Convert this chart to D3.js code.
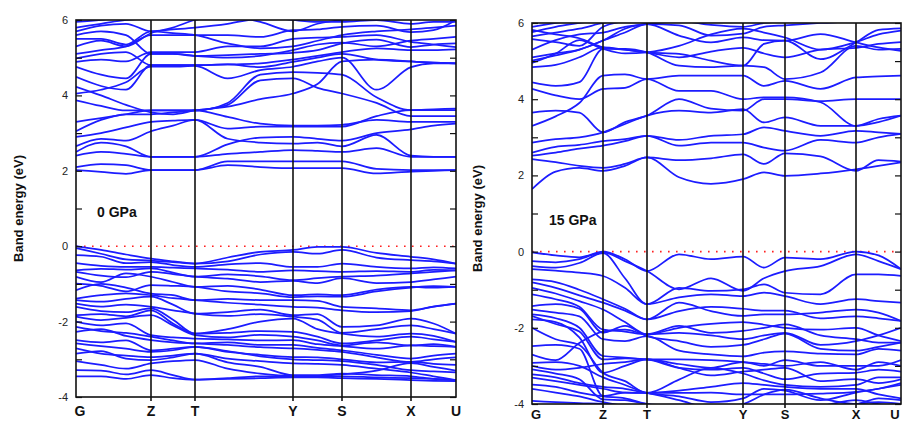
<!DOCTYPE html>
<html>
<head>
<meta charset="utf-8">
<script src="https://cdn.jsdelivr.net/npm/d3@7"></script>
<style>
  body { margin: 0; background: #fff; }
  #container { width: 906px; height: 421px; }
  svg { display: block; font-family: "Liberation Sans", Arial, sans-serif; }
</style>
</head>
<body>
<div id="container"></div>
<script>
// k-path, high symmetry points and the path length of each segment
const kLabels = ["G", "Z", "T", "Y", "S", "X", "U"];
const kNodes0 = [0, 75, 119, 217, 266, 335, 380];
const kNodes15 = [0, 71, 115, 211, 253, 324, 369];
// how many sub steps each segment is sampled with: G-Z, Z-T, T-Y, Y-S, S-X, X-U
const segSteps = [3, 2, 3, 2, 2, 2];

// band energies (eV) at the sampled k points
// order: G, a, b, Z, c, T, d, e, Y, f, S, g, X, h, U
const cond0 = [
  [2.02,1.97,1.92,2.02,2.02,2.02,2.15,2.1,2.07,2.07,2.07,1.93,1.98,2.0,2.02],
  [2.1,2.18,2.15,2.02,2.02,2.02,2.25,2.25,2.25,2.25,2.25,2.05,2.02,2.02,2.02],
  [2.4,2.5,2.45,2.37,2.37,2.37,2.45,2.5,2.55,2.53,2.5,2.6,2.37,2.37,2.37],
  [2.5,2.75,2.65,2.37,2.37,2.37,2.7,2.88,2.9,2.85,2.8,3.0,3.1,3.2,3.25],
  [2.65,2.85,2.8,3.05,3.2,3.35,2.85,2.75,2.72,2.75,2.65,2.95,2.4,2.37,2.37],
  [2.9,3.0,3.15,3.3,3.33,3.35,3.12,3.17,3.17,3.17,3.17,3.45,3.61,3.61,3.61],
  [3.05,3.35,3.5,3.5,3.55,3.6,3.75,4.4,4.45,4.2,4.05,3.8,3.45,3.45,3.45],
  [3.3,3.4,3.5,3.6,3.6,3.6,3.8,4.55,4.62,4.6,4.55,3.95,3.61,3.63,3.65],
  [3.87,3.72,3.6,3.6,3.6,3.6,3.43,3.25,3.2,3.2,3.22,3.35,3.3,3.3,3.3],
  [4.05,4.15,4.35,4.76,4.76,4.78,4.45,4.67,4.76,4.9,5.0,4.15,4.75,4.85,4.85],
  [4.23,4.0,3.75,3.55,3.5,3.6,3.7,3.9,4.05,4.3,4.9,4.95,4.9,4.87,4.85],
  [4.49,4.25,4.15,4.8,4.8,4.8,4.82,4.75,4.89,5.0,5.1,4.95,4.9,4.87,4.85],
  [4.76,4.55,4.45,5.1,5.1,5.05,5.07,5.1,5.13,5.2,5.38,5.48,5.28,5.35,5.38],
  [4.89,4.95,4.9,5.15,5.15,5.15,5.3,5.3,5.5,5.53,5.55,5.6,5.42,5.35,5.28],
  [4.98,5.1,5.15,4.8,4.8,4.8,4.82,4.85,4.95,5.05,5.15,5.25,5.2,5.2,5.22],
  [5.1,5.2,5.3,5.6,5.6,5.6,5.6,5.55,5.73,5.75,5.82,5.85,5.68,5.73,6.0],
  [5.3,5.45,5.3,5.65,5.8,6.0,6.1,5.95,5.7,5.9,6.0,6.05,6.1,6.1,6.1],
  [5.5,5.5,5.35,5.7,5.65,5.6,5.38,5.25,5.3,5.45,5.6,5.7,5.75,5.8,5.85],
  [5.6,5.7,5.6,5.1,5.1,5.05,5.0,5.05,5.2,5.35,5.4,5.3,5.45,5.5,5.55],
  [5.7,5.85,5.9,5.7,5.75,5.8,5.9,6.05,6.1,6.1,6.1,6.1,6.1,6.1,6.1],
  [5.8,5.9,6.0,6.05,6.1,6.1,6.1,6.1,6.0,5.95,5.95,6.0,5.9,5.95,5.95],
  [5.95,6.0,6.1,6.1,6.2,6.2,6.2,6.2,6.2,6.2,6.2,6.2,6.2,6.2,6.2]
];
const val0 = [
  [0,-0.1,-0.22,-0.33,-0.4,-0.46,-0.3,-0.15,-0.1,-0.02,-0.02,-0.18,-0.28,-0.35,-0.46],
  [-0.05,-0.2,-0.35,-0.38,-0.42,-0.46,-0.4,-0.22,-0.15,-0.2,-0.1,-0.3,-0.37,-0.4,-0.46],
  [-0.24,-0.28,-0.45,-0.42,-0.5,-0.55,-0.48,-0.45,-0.55,-0.55,-0.46,-0.55,-0.59,-0.56,-0.59],
  [-0.45,-0.52,-0.55,-0.55,-0.57,-0.59,-0.62,-0.68,-0.64,-0.66,-0.68,-0.66,-0.68,-0.63,-0.64],
  [-0.64,-0.6,-0.62,-0.59,-0.7,-0.81,-0.75,-0.8,-0.9,-0.85,-0.81,-0.78,-0.72,-0.68,-0.64],
  [-0.68,-0.78,-0.82,-0.68,-0.74,-0.81,-0.86,-0.95,-0.92,-0.98,-0.85,-0.98,-0.95,-0.88,-0.81],
  [-0.81,-0.95,-0.72,-0.81,-0.95,-1.08,-1.05,-1.15,-1.3,-1.28,-1.3,-1.15,-1.08,-1.1,-1.08],
  [-0.99,-1.05,-1.2,-1.03,-1.05,-1.08,-1.2,-1.25,-1.35,-1.33,-1.34,-1.2,-1.1,-1.06,-1.08],
  [-1.17,-1.0,-1.1,-1.26,-1.3,-1.43,-1.4,-1.43,-1.43,-1.45,-1.61,-1.65,-1.7,-1.6,-1.52],
  [-1.39,-1.3,-1.25,-1.3,-1.38,-1.43,-1.5,-1.55,-1.61,-1.63,-1.7,-1.75,-1.72,-1.6,-1.52],
  [-1.43,-1.47,-1.4,-1.34,-1.55,-1.79,-1.75,-1.68,-1.83,-1.8,-2.14,-2.1,-1.92,-2.05,-2.32],
  [-1.52,-1.6,-1.55,-1.61,-1.7,-1.79,-1.85,-1.8,-1.87,-1.95,-2.3,-2.2,-2.1,-2.2,-2.32],
  [-1.61,-1.72,-1.75,-1.65,-1.95,-2.32,-2.2,-2.0,-1.92,-2.2,-2.32,-2.4,-2.32,-2.38,-2.54],
  [-1.83,-1.8,-1.86,-1.7,-2.05,-2.32,-2.3,-2.25,-2.27,-2.4,-2.58,-2.5,-2.4,-2.47,-2.54],
  [-1.87,-1.96,-1.9,-1.83,-2.1,-2.36,-2.42,-2.35,-2.4,-2.5,-2.63,-2.55,-2.63,-2.6,-2.67],
  [-2.0,-2.1,-2.05,-2.36,-2.42,-2.45,-2.47,-2.5,-2.49,-2.6,-2.65,-2.72,-2.63,-2.65,-2.67],
  [-2.14,-2.25,-2.3,-2.4,-2.5,-2.58,-2.55,-2.62,-2.62,-2.7,-2.76,-2.88,-2.98,-2.9,-2.85],
  [-2.27,-2.2,-2.38,-2.49,-2.55,-2.58,-2.62,-2.68,-2.71,-2.75,-2.8,-2.95,-3.07,-3.0,-2.95],
  [-2.49,-2.55,-2.5,-2.76,-2.72,-2.67,-2.8,-2.88,-2.94,-2.95,-3.0,-3.08,-3.07,-3.12,-3.15],
  [-2.58,-2.65,-2.72,-2.8,-2.76,-2.67,-2.78,-2.92,-3.0,-3.02,-3.05,-3.15,-3.29,-3.32,-3.35],
  [-2.71,-2.85,-2.9,-2.94,-2.9,-2.85,-2.98,-3.05,-3.11,-3.12,-3.15,-3.25,-3.35,-3.45,-3.55],
  [-2.85,-2.78,-2.98,-3.02,-2.95,-2.85,-3.08,-3.2,-3.42,-3.42,-3.38,-3.42,-3.45,-3.52,-3.55],
  [-3.05,-3.15,-3.25,-3.11,-3.05,-3.02,-3.25,-3.38,-3.44,-3.44,-3.4,-3.3,-3.1,-3.2,-3.3],
  [-3.29,-3.3,-3.4,-3.29,-3.42,-3.54,-3.5,-3.45,-3.45,-3.45,-3.45,-3.48,-3.5,-3.52,-3.55],
  [-3.45,-3.45,-3.52,-3.42,-3.5,-3.54,-3.52,-3.5,-3.48,-3.48,-3.5,-3.52,-3.55,-3.57,-3.58]
];
const cond15 = [
  [1.64,2.1,2.2,2.12,2.25,2.47,1.95,1.78,1.9,2.08,1.99,2.05,2.16,2.25,2.34],
  [2.43,2.35,2.25,2.2,2.3,2.47,2.4,2.45,2.55,2.3,2.58,2.5,2.12,2.4,2.36],
  [2.52,2.6,2.7,2.78,2.9,3.04,2.78,2.86,2.86,2.73,2.65,2.93,2.86,3.0,3.09],
  [2.6,2.75,2.8,2.9,2.95,3.04,2.93,3.04,3.08,3.26,3.17,3.04,3.17,3.13,3.09],
  [2.86,2.95,3.0,3.13,3.35,3.57,3.7,3.65,3.74,3.39,3.52,3.3,3.3,3.48,3.57],
  [3.65,3.7,3.65,3.13,3.4,3.57,4.0,3.75,3.7,4.0,4.0,3.95,4.0,4.0,4.0],
  [4.27,4.1,4.0,4.27,4.3,4.53,4.22,4.22,4.0,4.05,4.05,3.92,3.3,3.4,3.57],
  [3.3,3.55,3.9,4.62,4.65,4.53,4.62,4.62,4.62,4.35,4.48,4.27,4.57,4.6,4.62],
  [4.44,4.35,4.45,5.32,5.32,5.23,4.88,4.84,4.88,4.84,4.53,4.7,5.4,5.3,5.32],
  [4.84,4.9,5.1,5.36,5.3,5.23,5.19,5.01,4.88,5.45,5.54,5.05,5.49,5.82,5.86],
  [5.01,5.15,5.3,5.54,5.85,5.97,5.67,5.49,5.62,5.55,5.54,5.71,5.49,5.36,5.27],
  [5.1,5.2,5.3,5.54,5.75,5.97,5.94,5.67,5.72,5.9,5.94,6.0,6.05,6.1,6.1],
  [5.58,5.5,5.4,5.9,6.05,6.1,6.1,6.1,6.1,6.1,6.1,6.1,6.1,6.1,6.1],
  [5.65,5.75,5.85,6.0,6.1,6.2,6.2,6.2,6.2,6.2,6.2,6.2,6.2,6.2,6.2],
  [5.76,5.9,6.0,6.1,6.2,6.2,6.2,6.2,6.2,6.2,6.2,6.2,6.2,6.2,6.2],
  [5.9,6.0,6.1,6.2,6.2,6.2,6.2,6.2,6.2,6.2,6.2,6.2,6.2,6.2,6.2],
  [4.95,5.2,5.55,5.32,5.2,5.23,5.4,5.7,5.85,5.75,5.62,5.3,5.5,5.7,5.8],
  [5.3,5.55,5.7,5.75,5.9,5.97,6.05,5.95,5.9,6.0,6.05,6.1,6.1,6.1,6.1],
  [5.82,5.7,5.6,5.36,5.3,5.23,5.1,5.25,5.35,5.2,5.1,5.3,5.35,5.45,5.5]
];
const val15 = [
  [-0.02,-0.1,-0.15,0,-0.2,-0.51,-0.07,-0.2,-0.13,-0.42,-0.16,-0.2,0,-0.1,-0.46],
  [-0.25,-0.28,-0.2,-0.02,-0.25,-0.51,-0.99,-0.7,-1.03,-0.7,-0.51,-0.38,-0.07,-0.25,-0.46],
  [-0.38,-0.42,-0.3,-0.04,-0.7,-1.38,-0.95,-1.03,-0.99,-0.86,-1.08,-1.12,-0.6,-0.6,-0.64],
  [-0.46,-0.5,-0.55,-0.64,-0.95,-1.38,-1.2,-1.12,-1.17,-1.08,-1.17,-1.38,-1.25,-1.3,-1.34],
  [-0.73,-0.8,-1.0,-1.25,-1.5,-1.78,-1.34,-1.56,-1.69,-1.65,-1.65,-1.6,-1.52,-1.6,-1.82],
  [-0.81,-0.95,-1.15,-1.34,-1.55,-1.78,-1.56,-1.45,-1.5,-1.55,-1.55,-1.75,-1.7,-1.75,-1.82],
  [-0.95,-1.1,-1.3,-1.52,-1.85,-2.17,-1.95,-2.13,-2.08,-2.0,-1.91,-2.2,-2.3,-2.39,-2.39],
  [-1.12,-1.25,-1.45,-2.05,-2.1,-2.17,-2.13,-2.2,-2.3,-2.2,-2.13,-2.45,-2.35,-2.2,-2.0],
  [-1.43,-1.38,-1.5,-2.13,-1.95,-2.22,-2.35,-2.5,-2.45,-2.3,-2.15,-2.55,-2.6,-2.5,-2.39],
  [-1.52,-1.6,-1.7,-2.3,-2.35,-2.22,-2.6,-2.7,-2.75,-2.65,-2.62,-2.68,-2.7,-2.55,-2.6],
  [-1.65,-1.75,-2.0,-2.74,-2.78,-2.83,-2.83,-2.85,-2.9,-2.95,-3.0,-2.9,-3.1,-2.9,-3.0],
  [-1.69,-1.9,-2.1,-2.83,-2.8,-2.83,-3.05,-3.1,-3.05,-3.2,-3.35,-3.2,-3.18,-3.1,-3.15],
  [-1.78,-1.85,-2.25,-3.18,-3.0,-2.83,-3.05,-3.25,-3.15,-3.1,-3.05,-3.4,-3.35,-3.45,-3.35],
  [-2.0,-2.3,-2.45,-3.18,-3.4,-3.71,-3.36,-3.05,-3.2,-3.38,-3.5,-3.55,-3.5,-3.3,-3.3],
  [-2.48,-2.45,-2.55,-3.79,-3.7,-3.71,-3.71,-3.7,-3.75,-3.75,-3.75,-3.73,-3.68,-3.6,-3.45],
  [-2.7,-2.85,-2.4,-2.1,-2.05,-2.17,-2.0,-1.9,-1.85,-1.92,-2.0,-2.05,-2.0,-2.2,-2.35],
  [-2.92,-2.9,-3.0,-3.3,-3.5,-3.71,-3.8,-3.95,-3.85,-3.6,-3.65,-3.9,-3.7,-3.6,-3.5],
  [-3.0,-3.1,-3.05,-2.95,-2.9,-2.83,-2.95,-3.05,-2.9,-3.0,-2.85,-3.0,-3.0,-3.0,-2.85],
  [-3.09,-3.2,-3.35,-3.88,-3.9,-4.0,-4.05,-4.1,-4.0,-3.75,-3.62,-3.85,-4.0,-3.85,-3.9],
  [-3.22,-3.3,-3.45,-3.55,-3.6,-3.71,-3.9,-4.1,-4.1,-4.1,-4.1,-4.05,-3.9,-4.0,-4.05],
  [-3.31,-3.4,-3.5,-3.6,-3.7,-3.71,-3.65,-3.55,-3.45,-3.5,-3.55,-3.6,-3.6,-3.75,-3.85],
  [-3.49,-3.55,-3.7,-3.8,-3.85,-4.0,-4.1,-4.2,-4.2,-4.2,-4.2,-4.1,-4.0,-3.95,-4.0],
  [-3.6,-3.7,-3.8,-3.95,-4.05,-4.1,-4.2,-4.2,-4.2,-4.2,-4.2,-4.2,-4.2,-4.2,-4.2],
  [-3.92,-3.95,-3.98,-4.0,-4.1,-4.2,-4.2,-4.2,-4.2,-4.2,-4.2,-4.2,-4.2,-4.2,-4.2]
];

const yTicks = [-4, -3, -2, -1, 0, 1, 2, 3, 4, 5, 6];

const panels = [
  {nodes: kNodes0, cond: cond0, val: val0, label: "0 GPa",
   x0: 76, x1: 456, top: 20, bottom: 397, titleX: 18, tagX: 97, tagY: 217, kY: 416},
  {nodes: kNodes15, cond: cond15, val: val15, label: "15 GPa",
   x0: 532, x1: 901, top: 23, bottom: 404, titleX: 477, tagX: 549, tagY: 225, kY: 421}
];

const W = 906, H = 421;
const svg = d3.create("svg")
  .attr("width", W)
  .attr("height", H)
  .attr("viewBox", `0 0 ${W} ${H}`)
  .attr("xmlns", "http://www.w3.org/2000/svg");

function samplePositions(nodes) {
  const ks = [nodes[0]];
  segSteps.forEach((n, i) => {
    for (let j = 1; j <= n; j++) ks.push(nodes[i] + (nodes[i + 1] - nodes[i]) * j / n);
  });
  return ks;
}

panels.forEach((p, pi) => {
  const x = d3.scaleLinear().domain([0, p.nodes[p.nodes.length - 1]]).range([p.x0, p.x1]);
  const y = d3.scaleLinear().domain([-4, 6]).range([p.bottom, p.top]);
  const ks = samplePositions(p.nodes);

  const clipId = "clip" + pi;
  svg.append("clipPath").attr("id", clipId)
    .append("rect")
    .attr("x", p.x0).attr("y", p.top)
    .attr("width", p.x1 - p.x0).attr("height", p.bottom - p.top);

  const g = svg.append("g");

  // fermi level
  g.append("line")
    .attr("x1", p.x0).attr("x2", p.x1)
    .attr("y1", y(0)).attr("y2", y(0))
    .attr("stroke", "#ff2020")
    .attr("stroke-width", 1.6)
    .attr("stroke-dasharray", "1.6,6.4");

  const line = d3.line()
    .x((d, i) => x(ks[i]))
    .y(d => y(d))
    .curve(d3.curveMonotoneX);

  g.append("g")
    .attr("clip-path", `url(#${clipId})`)
    .selectAll("path")
    .data(p.val.concat(p.cond))
    .join("path")
    .attr("d", line)
    .attr("fill", "none")
    .attr("stroke", "#1c1cff")
    .attr("stroke-width", 1.75);

  // high symmetry verticals
  g.selectAll("line.kline")
    .data(p.nodes.slice(1, -1))
    .join("line")
    .attr("class", "kline")
    .attr("x1", d => x(d)).attr("x2", d => x(d))
    .attr("y1", p.top).attr("y2", p.bottom + 4)
    .attr("stroke", "#111")
    .attr("stroke-width", 1.6);

  // frame
  g.append("rect")
    .attr("x", p.x0).attr("y", p.top)
    .attr("width", p.x1 - p.x0).attr("height", p.bottom - p.top)
    .attr("fill", "none")
    .attr("stroke", "#111")
    .attr("stroke-width", 1.6);

  const yAxis = d3.axisLeft(y)
    .tickValues(yTicks)
    .tickSize(-6)
    .tickPadding(8)
    .tickFormat(d => d % 2 === 0 ? String(d) : "");
  const ay = g.append("g").attr("transform", `translate(${p.x0},0)`).call(yAxis);
  ay.select(".domain").remove();
  ay.selectAll(".tick line").attr("stroke", "#111").attr("stroke-width", 1.2);
  ay.selectAll(".tick text").attr("font-size", 11).attr("fill", "#222")
    .attr("font-family", "Liberation Sans, Arial, sans-serif");

  const yAxisR = d3.axisRight(y).tickValues(yTicks).tickSize(-6).tickFormat("");
  const ar = g.append("g").attr("transform", `translate(${p.x1},0)`).call(yAxisR);
  ar.select(".domain").remove();
  ar.selectAll(".tick line").attr("stroke", "#111").attr("stroke-width", 1.2);

  // k labels
  g.selectAll("text.klab")
    .data(kLabels)
    .join("text")
    .attr("class", "klab")
    .attr("x", (d, i) => x(p.nodes[i]) + (i === 0 ? 4 : (i === kLabels.length - 1 && pi === 1 ? -6 : 0)))
    .attr("y", p.kY - (pi === 1 ? 2 : 0))
    .attr("text-anchor", "middle")
    .attr("font-size", pi === 1 ? 13 : 14)
    .attr("font-weight", "bold")
    .attr("fill", "#111")
    .text(d => d);

  g.append("text")
    .attr("transform", `translate(${p.titleX},${(p.top + p.bottom) / 2 + (pi === 0 ? 0 : 5)}) rotate(-90)`)
    .attr("text-anchor", "middle")
    .attr("dominant-baseline", "central")
    .attr("font-size", 13)
    .attr("font-weight", "bold")
    .attr("fill", "#111")
    .text("Band energy (eV)");

  g.append("text")
    .attr("x", p.tagX).attr("y", p.tagY)
    .attr("font-size", 14)
    .attr("font-weight", "bold")
    .attr("fill", "#111")
    .text(p.label);
});

document.getElementById("container").append(svg.node());
</script>
</body>
</html>
